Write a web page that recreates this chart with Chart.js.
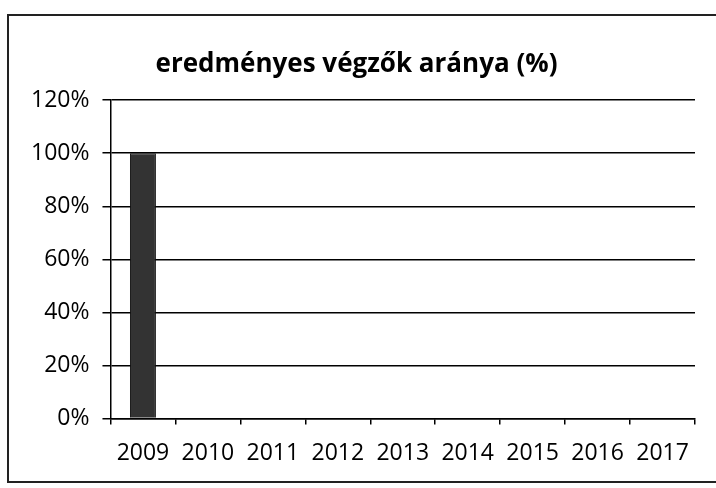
<!DOCTYPE html>
<html>
<head>
<meta charset="utf-8">
<script src="https://cdn.jsdelivr.net/npm/chart.js@4"></script>
<style>
  html, body { margin: 0; padding: 0; background: #fff; }
  #wrap { width: 716px; height: 488px; }
</style>
</head>
<body>
<div id="wrap"><canvas id="chart" width="716" height="488"></canvas></div>
<script>
const years = ['2009', '2010', '2011', '2012', '2013', '2014', '2015', '2016', '2017'];
const ratio = [100, 0, 0, 0, 0, 0, 0, 0, 0];
const yTicks = [0, 20, 40, 60, 80, 100, 120];
const title = 'eredményes végzők aránya (%)';

// scanned frame round the chart (left, top and bottom edges only)
const framePlugin = {
    id: 'frame',
    beforeDraw(chart) {
        const c = chart.ctx;
        c.save();
        c.strokeStyle = '#222';
        c.lineWidth = 2;
        c.beginPath();
        c.moveTo(716, 15);
        c.lineTo(8, 15);
        c.lineTo(8, 482);
        c.lineTo(716, 482);
        c.stroke();
        c.restore();
    }
};

const ctx = document.getElementById('chart').getContext('2d');
new Chart(ctx, {
    type: 'bar',
    data: {
        labels: years,
        datasets: [{
            data: ratio,
            backgroundColor: '#333333',
            borderColor: '#111111',
            borderWidth: 1,
            barPercentage: 0.4,
            categoryPercentage: 1.0
        }]
    },
    options: {
        responsive: false,
        animation: false,
        layout: { padding: { left: 18, right: 21, top: 35, bottom: 6 } },
        plugins: {
            legend: { display: false },
            tooltip: { enabled: false },
            title: {
                display: true,
                text: title,
                color: '#000',
                font: { family: 'Open Sans', size: 26, weight: 'bold' },
                padding: { top: 14, bottom: 20 }
            }
        },
        scales: {
            x: {
                grid: { display: true, drawOnChartArea: false, offset: true, tickLength: 6, color: '#000', lineWidth: 1.5 },
                border: { color: '#000', width: 1.5 },
                ticks: { color: '#000', font: { family: 'Open Sans', size: 23 }, padding: 15, maxRotation: 0, autoSkip: false }
            },
            y: {
                min: 0,
                max: 120,
                afterBuildTicks: axis => { axis.ticks = yTicks.map(v => ({ value: v })); },
                grid: { color: '#000', lineWidth: 1.5, tickLength: 8 },
                border: { color: '#000', width: 1.5 },
                ticks: {
                    color: '#000',
                    font: { family: 'Open Sans', size: 23 },
                    padding: 13,
                    callback: v => v + '%'
                }
            }
        }
    },
    plugins: [framePlugin]
});
</script>
</body>
</html>
